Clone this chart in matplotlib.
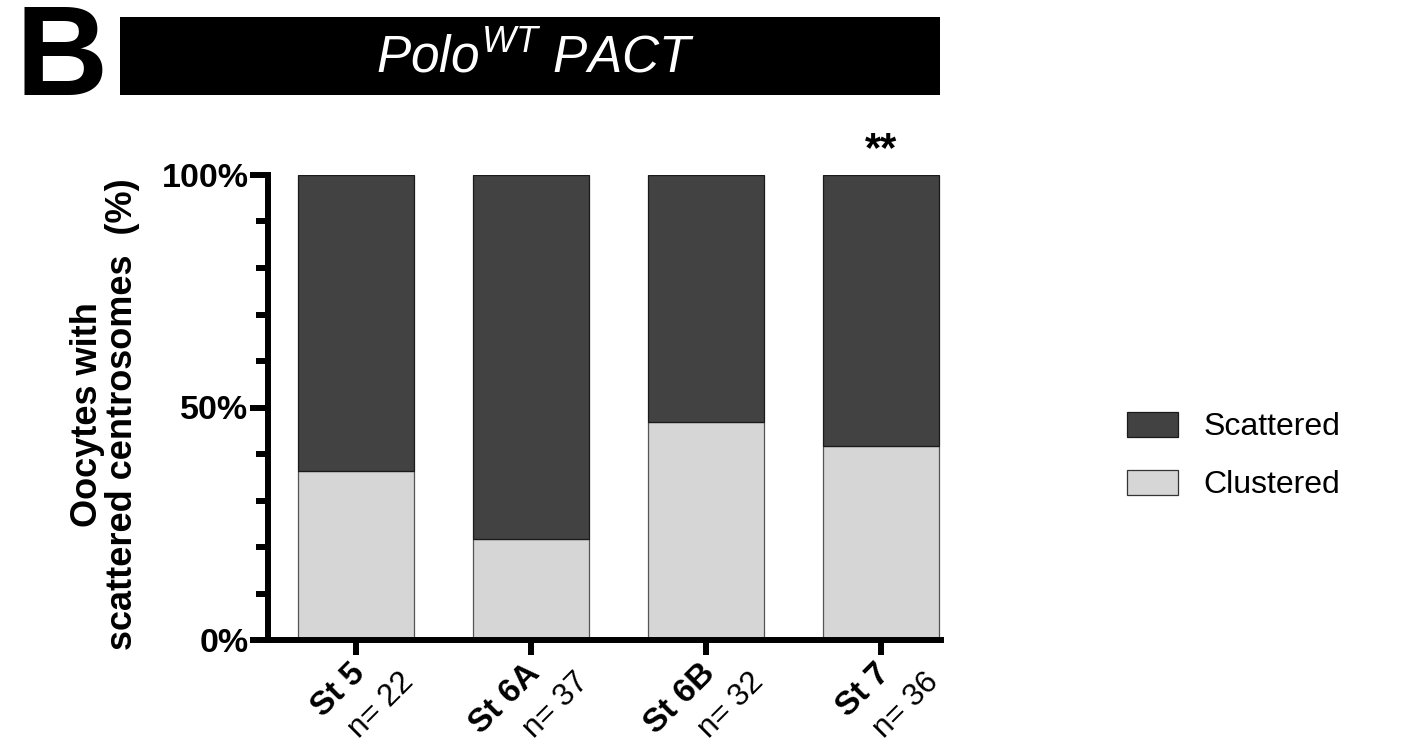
import numpy as np
import matplotlib
matplotlib.use("Agg")
import matplotlib.pyplot as plt
from matplotlib.patches import Rectangle, Patch
from matplotlib.ticker import MultipleLocator, FixedLocator
import matplotlib.transforms as mtransforms

plt.rcParams['font.family'] = ['Liberation Sans', 'DejaVu Sans']
plt.rcParams['mathtext.fontset'] = 'custom'
plt.rcParams['mathtext.it'] = 'Liberation Sans:italic'
plt.rcParams['mathtext.rm'] = 'Liberation Sans'

# data
stages = ["St 5", "St 6A", "St 6B", "St 7"]
n_counts = [22, 37, 32, 36]
clustered_n = [8, 8, 15, 15]
clustered_pct = [100.0 * c / n for c, n in zip(clustered_n, n_counts)]
scattered_pct = [100.0 - c for c in clustered_pct]
signif = ["", "", "", "**"]

DARK = "#424242"
LIGHT = "#d6d6d6"

fig = plt.figure(figsize=(14.06, 7.48), dpi=100)
ax = fig.add_axes([268 / 1406, 1 - 640 / 748, (941 - 268) / 1406, (640 - 175) / 748])

x = np.arange(len(stages))
w = 0.663
ax.bar(x, clustered_pct, width=w, color=LIGHT, edgecolor="#555555", linewidth=0.9, label="Clustered")
ax.bar(x, scattered_pct, width=w, bottom=clustered_pct, color=DARK, edgecolor="#1a1a1a",
       linewidth=0.9, label="Scattered")

ax.set_xlim(-0.503, 3.343)
ax.set_ylim(0, 100)

for s in ["top", "right"]:
    ax.spines[s].set_visible(False)
for s in ["left", "bottom"]:
    ax.spines[s].set_linewidth(4.3)

ax.yaxis.set_major_locator(FixedLocator([0, 50, 100]))
ax.yaxis.set_minor_locator(MultipleLocator(10))
ax.set_yticklabels(["0%", "50%", "100%"], fontsize=24.5, fontweight="bold")
ax.tick_params(axis="y", which="major", length=13, width=4.3, pad=1)
ax.tick_params(axis="y", which="minor", length=8.5, width=4.3)
ax.set_xticks(x)
ax.set_xticklabels([])
ax.tick_params(axis="x", which="major", length=11, width=4.3)

# two-part rotated x labels: bold stage, regular n
for i, (st, n) in enumerate(zip(stages, n_counts)):
    off1 = mtransforms.offset_copy(ax.get_xaxis_transform(), fig=fig, x=3, y=-21, units="points")
    ax.text(i, 0, st, transform=off1, rotation=45, rotation_mode="anchor",
            ha="right", va="center", fontsize=24, fontweight="bold")
    off2 = mtransforms.offset_copy(ax.get_xaxis_transform(), fig=fig, x=38, y=-27, units="points")
    ax.text(i, 0, "n= %d" % n, transform=off2, rotation=45, rotation_mode="anchor",
            ha="right", va="center", fontsize=22.5)
    if signif[i]:
        ax.text(i, 101, signif[i], ha="center", va="bottom", fontsize=30, fontweight="bold",
                clip_on=False)

ax.set_ylabel("Oocytes with\nscattered centrosomes  (%)", fontsize=26, fontweight="bold",
              linespacing=1.0)
ax.yaxis.set_label_coords(-0.19, 0.485)

# legend
handles = [Patch(facecolor=DARK, edgecolor="#1a1a1a", linewidth=0.9),
           Patch(facecolor=LIGHT, edgecolor="#333333", linewidth=0.9)]
fig.legend(handles, ["Scattered", "Clustered"], loc="center left",
           bbox_to_anchor=(1098 / 1406, 1 - 456 / 748), frameon=False, fontsize=23,
           handlelength=1.6, handleheight=0.85, handletextpad=0.8, labelspacing=0.85)

# title banner
fig.patches.append(Rectangle((120 / 1406, 1 - 95 / 748), 820 / 1406, 78 / 748,
                             transform=fig.transFigure, facecolor="black", edgecolor="none"))
fig.text(535 / 1406, 1 - 58 / 748, r"$\mathit{Polo}^{\mathit{WT}}\ \mathit{PACT}$",
         color="white", fontsize=37, ha="center", va="center")
fig.text(16 / 1406, 1 - 62 / 748, "B", fontsize=92, fontweight="bold", ha="left", va="center")

fig.savefig("out.png", dpi=100)
